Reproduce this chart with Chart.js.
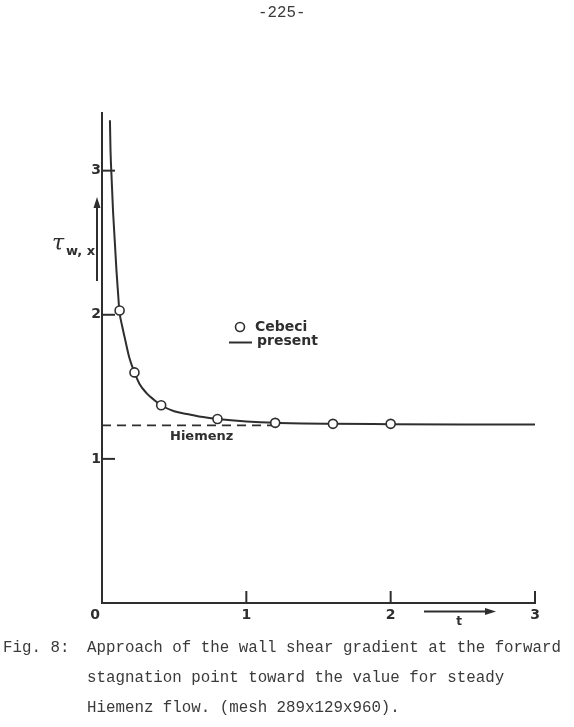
<!DOCTYPE html>
<html>
<head>
<meta charset="utf-8">
<script src="https://cdn.jsdelivr.net/npm/chart.js@4.4.0/dist/chart.umd.min.js"></script>
<style>
  body { margin: 0; background: #fff; }
  #wrap { position: relative; width: 574px; height: 727px; }
  canvas { position: absolute; left: 0; top: 0; }
  .txt { position: absolute; font-family: "Liberation Mono", monospace; font-size: 15.8px;
         color: #3a3a3a; white-space: pre; line-height: 16px; }
</style>
</head>
<body>
<div id="wrap">
  <canvas id="c" width="574" height="727"></canvas>
  <div class="txt" style="left:258px;top:5px">-225-</div>
  <div class="txt" style="left:3px;top:640px">Fig. 8:</div>
  <div class="txt" style="left:87px;top:640px">Approach of the wall shear gradient at the forward</div>
  <div class="txt" style="left:87px;top:670px">stagnation point toward the value for steady</div>
  <div class="txt" style="left:87px;top:700px">Hiemenz flow. (mesh 289x129x960).</div>
</div>
<script>
// present computation (solid curve)
const presentT = [0.055, 0.059, 0.067, 0.076, 0.088, 0.1, 0.112, 0.12, 0.14, 0.161, 0.19, 0.225,
                  0.26, 0.31, 0.36, 0.41, 0.5, 0.6, 0.7, 0.8, 1.0, 1.2, 1.6, 2.0, 2.5, 3.0];
const presentTau = [3.35, 3.14, 2.94, 2.73, 2.52, 2.31, 2.14, 2.03, 1.92, 1.825, 1.7, 1.6,
                    1.52, 1.455, 1.41, 1.372, 1.33, 1.31, 1.29, 1.277, 1.26, 1.25, 1.243, 1.241, 1.239, 1.238];

// Cebeci (circles)
const cebeciT = [0.122, 0.225, 0.41, 0.8, 1.2, 1.6, 2.0];
const cebeciTau = [2.03, 1.6, 1.372, 1.277, 1.25, 1.243, 1.243];

// steady Hiemenz value (dashed)
const hiemenzT = [0, 1.2];
const hiemenzTau = [1.2326, 1.2326];

const xTicks = [0, 1, 2, 3];
const yTicks = [1, 2, 3];

const ink = '#2e2e2e';

function pts(xs, ys) { return xs.map((x, i) => ({ x: x, y: ys[i] })); }

const decor = {
  id: 'decor',
  afterDraw(chart) {
    const ctx = chart.ctx;
    const xs = chart.scales.x, ys = chart.scales.y;
    const a = chart.chartArea;
    ctx.save();
    ctx.strokeStyle = ink;
    ctx.fillStyle = ink;
    ctx.lineWidth = 2;

    // tick marks pointing inward
    yTicks.forEach(v => {
      const py = ys.getPixelForValue(v);
      ctx.beginPath(); ctx.moveTo(a.left, py); ctx.lineTo(a.left + 13, py); ctx.stroke();
    });
    xTicks.slice(1).forEach(v => {
      const px = xs.getPixelForValue(v);
      ctx.beginPath(); ctx.moveTo(px, a.bottom); ctx.lineTo(px, a.bottom - 12); ctx.stroke();
    });

    // tick labels
    ctx.font = 'bold 14px "DejaVu Sans"';
    ctx.textBaseline = 'middle';
    ctx.textAlign = 'right';
    yTicks.forEach(v => ctx.fillText(String(v), a.left - 1, ys.getPixelForValue(v)));
    ctx.textAlign = 'center';
    xTicks.forEach(v => ctx.fillText(String(v), xs.getPixelForValue(v) - (v === 0 ? 7 : 0), a.bottom + 12));

    // y axis label with arrow
    ctx.textAlign = 'left';
    ctx.font = 'italic 22px "DejaVu Serif"';
    ctx.fillText('\u03C4', 52, 244);
    ctx.font = 'bold 13px "DejaVu Sans"';
    ctx.fillText('w, x', 66, 252);
    ctx.lineWidth = 2;
    ctx.beginPath(); ctx.moveTo(97, 281); ctx.lineTo(97, 205); ctx.stroke();
    ctx.beginPath(); ctx.moveTo(97, 197); ctx.lineTo(93.5, 208); ctx.lineTo(100.5, 208); ctx.closePath(); ctx.fill();

    // x axis label with arrow
    ctx.beginPath(); ctx.moveTo(424, 611.5); ctx.lineTo(488, 611.5); ctx.stroke();
    ctx.beginPath(); ctx.moveTo(496, 611.5); ctx.lineTo(485, 608); ctx.lineTo(485, 615); ctx.closePath(); ctx.fill();
    ctx.textAlign = 'center';
    ctx.font = 'bold 12px "DejaVu Sans"';
    ctx.fillText('t', 459, 622);

    // Hiemenz label
    ctx.textAlign = 'left';
    ctx.font = 'bold 13px "DejaVu Sans"';
    ctx.fillText('Hiemenz', 170, 437);

    // legend
    ctx.font = 'bold 14px "DejaVu Sans"';
    ctx.lineWidth = 1.6;
    ctx.beginPath(); ctx.arc(240, 327, 4.5, 0, Math.PI * 2); ctx.stroke();
    ctx.fillText('Cebeci', 255, 327);
    ctx.lineWidth = 2;
    ctx.beginPath(); ctx.moveTo(229, 342.5); ctx.lineTo(252, 342.5); ctx.stroke();
    ctx.fillText('present', 257, 341);
    ctx.restore();
  }
};

new Chart(document.getElementById('c'), {
  type: 'scatter',
  data: {
    datasets: [
      {
        label: 'Cebeci',
        data: pts(cebeciT, cebeciTau),
        showLine: false,
        pointRadius: 4.5,
        pointBackgroundColor: '#fff',
        pointBorderColor: ink,
        pointBorderWidth: 1.6
      },
      {
        label: 'present',
        data: pts(presentT, presentTau),
        showLine: true,
        borderColor: ink,
        borderWidth: 2,
        pointRadius: 0,
        cubicInterpolationMode: 'monotone'
      },
      {
        label: 'Hiemenz',
        data: pts(hiemenzT, hiemenzTau),
        showLine: true,
        borderColor: ink,
        borderWidth: 1.6,
        borderDash: [9, 6],
        pointRadius: 0
      }
    ]
  },
  options: {
    responsive: false,
    animation: false,
    devicePixelRatio: 1,
    layout: { padding: { left: 102, right: 39, top: 113, bottom: 124 } },
    plugins: { legend: { display: false }, tooltip: { enabled: false } },
    scales: {
      x: {
        type: 'linear', min: 0, max: 3,
        grid: { display: false, drawTicks: false },
        border: { display: true, color: ink, width: 2 },
        ticks: { display: false }
      },
      y: {
        type: 'linear', min: 0, max: 3.4,
        grid: { display: false, drawTicks: false },
        border: { display: true, color: ink, width: 2 },
        ticks: { display: false }
      }
    }
  },
  plugins: [decor]
});
</script>
</body>
</html>
